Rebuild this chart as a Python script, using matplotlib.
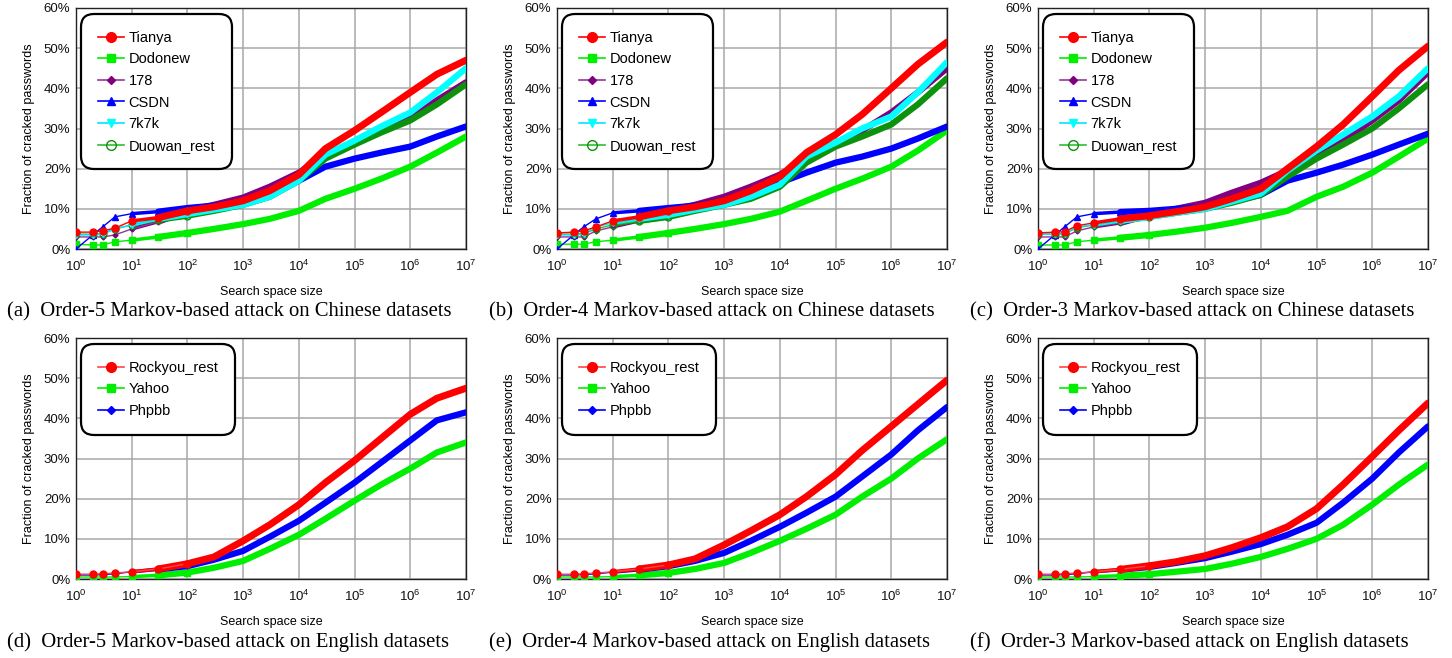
import matplotlib
matplotlib.use("Agg")
from matplotlib import pyplot as plt
from matplotlib.ticker import FuncFormatter, LogLocator, LogFormatterMathtext

plt.rcParams['font.family'] = ['Liberation Sans', 'DejaVu Sans']
plt.rcParams['mathtext.fontset'] = 'custom'
plt.rcParams['mathtext.rm'] = 'Liberation Sans'
plt.rcParams['mathtext.it'] = 'Liberation Sans:italic'

# search space sizes (guess numbers) at which the cracked fraction is sampled
guesses = [1, 2, 3, 5, 10, 30, 100, 300, 1e3, 3e3, 1e4, 3e4, 1e5, 3e5, 1e6, 3e6, 1e7]

# Chinese datasets, order-5 / order-4 / order-3 Markov (percent cracked)
cn_o5 = {
    'Tianya': [4.2, 4.2, 4.5, 5.2, 7, 7.8, 9.5, 10.5, 12, 14.5, 18.5, 25, 29.5, 34, 39, 43.5, 47],
    'Dodonew': [1.2, 1.0, 1.0, 1.8, 2.2, 3.0, 4.0, 5.0, 6.2, 7.5, 9.5, 12.5, 15, 17.5, 20.5, 24, 28],
    '178': [3, 3, 3, 3.5, 5, 6.8, 9.5, 11, 12.8, 15.5, 19, 23.5, 26.5, 29.5, 32.5, 37, 41.5],
    'CSDN': [0, 3.5, 5.5, 8, 8.8, 9.3, 10.2, 10.8, 12, 13.5, 17, 20.5, 22.5, 24, 25.5, 28, 30.5],
    '7k7k': [3.5, 3.5, 3.7, 5, 6, 7.5, 8.7, 9.8, 11, 13, 17, 23.5, 27, 30.5, 34, 39, 45],
    'Duowan_rest': [3.7, 3.7, 3.8, 5, 6, 7.3, 8.3, 9.5, 11, 13, 17, 22.5, 26, 29, 32, 36, 41],
}
cn_o4 = {
    'Tianya': [4, 4.2, 4.5, 5.5, 7, 8, 9.5, 10.5, 12, 14.5, 18, 24, 28.5, 33.5, 40, 46, 51.5],
    'Dodonew': [1.2, 1.2, 1.2, 1.8, 2.2, 3, 4, 5, 6.2, 7.5, 9.3, 12, 15, 17.5, 20.5, 24.5, 29.5],
    '178': [3, 3, 3, 4.5, 5.5, 7, 9.5, 11, 13, 15.5, 18.5, 22.5, 26, 29.5, 34, 39, 45],
    'CSDN': [0, 3.5, 5.5, 7.5, 9, 9.5, 10.2, 10.8, 12, 13.5, 16.5, 19, 21.5, 23, 25, 27.5, 30.5],
    '7k7k': [3.5, 3.5, 3.7, 5.5, 6.5, 7.5, 8.5, 9.8, 11, 13, 16, 23, 26.5, 30, 33, 39, 46.5],
    'Duowan_rest': [3.7, 3.7, 3.8, 5, 6, 7, 8, 9.5, 11, 12.5, 15.5, 21.5, 25.5, 28, 31, 36, 42.5],
}
cn_o3 = {
    'Tianya': [4, 4.2, 4.3, 5.8, 6.5, 7.5, 8.3, 9.3, 10.5, 12.5, 15, 20, 25.5, 31, 38, 44.5, 50.5],
    'Dodonew': [1, 1, 1, 1.8, 2.2, 2.8, 3.5, 4.3, 5.3, 6.5, 8, 9.5, 13, 15.5, 19, 23, 27.5],
    '178': [3, 3, 3, 4.5, 5.5, 6.5, 8.5, 10, 11.5, 14, 16.5, 19.5, 23.5, 27, 32, 37, 44],
    'CSDN': [0, 3.5, 5.5, 8, 8.8, 9.2, 9.5, 10, 10.5, 11.8, 13.5, 17, 19, 21, 23.5, 26, 28.7],
    '7k7k': [3.7, 3.7, 3.8, 5.5, 6, 7, 8, 9, 10, 11.8, 13.8, 19.5, 24.5, 28.5, 33, 38, 45],
    'Duowan_rest': [3.7, 3.7, 3.8, 5.3, 6, 7, 8, 9, 10, 11.5, 13.5, 18, 22.5, 26, 30, 35, 41],
}

# English datasets, order-5 / order-4 / order-3 Markov (percent cracked)
en_o5 = {
    'Rockyou_rest': [1.2, 1.2, 1.3, 1.5, 1.8, 2.5, 3.8, 5.5, 9.5, 13.5, 18.5, 24, 29.5, 35, 41, 45, 47.5],
    'Yahoo': [0.5, 0.5, 0.5, 0.5, 0.6, 0.9, 1.6, 2.8, 4.5, 7.5, 11, 15, 19.5, 23.5, 27.5, 31.5, 34],
    'Phpbb': [1, 1, 1.1, 1.3, 1.8, 2.4, 3.2, 4.8, 7, 10.5, 14.5, 19, 24, 29, 34.5, 39.5, 41.5],
}
en_o4 = {
    'Rockyou_rest': [1.2, 1.2, 1.3, 1.5, 1.8, 2.5, 3.5, 5, 8.5, 12, 16, 20.5, 26, 32, 38, 43.5, 49.5],
    'Yahoo': [0.5, 0.5, 0.5, 0.5, 0.6, 0.9, 1.5, 2.5, 4, 6.5, 9.5, 12.5, 16, 20.5, 25, 30, 34.8],
    'Phpbb': [1, 1, 1.1, 1.3, 1.7, 2.3, 3.2, 4.5, 6.5, 9.5, 13, 16.5, 20.5, 25.5, 31, 37, 42.8],
}
en_o3 = {
    'Rockyou_rest': [1.2, 1.2, 1.3, 1.5, 1.8, 2.4, 3.3, 4.3, 5.8, 7.8, 10.3, 13, 17.5, 23.5, 30.5, 37, 43.8],
    'Yahoo': [0.5, 0.5, 0.5, 0.5, 0.6, 0.8, 1.2, 1.8, 2.5, 3.8, 5.5, 7.5, 10, 13.5, 18.5, 23.5, 28.5],
    'Phpbb': [1, 1, 1.1, 1.3, 1.8, 2.3, 3, 4, 5.2, 6.8, 8.7, 11, 14, 19, 25, 31.5, 38],
}

captions = [
    "(a)  Order-5 Markov-based attack on Chinese datasets",
    "(b)  Order-4 Markov-based attack on Chinese datasets",
    "(c)  Order-3 Markov-based attack on Chinese datasets",
    "(d)  Order-5 Markov-based attack on English datasets",
    "(e)  Order-4 Markov-based attack on English datasets",
    "(f)  Order-3 Markov-based attack on English datasets",
]

# name: (band colour, legend line colour, marker, marker size, filled, zorder)
styles = {
    'Tianya': ('#ff0000', '#ff0000', 'o', 7, True, 8),
    'Dodonew': ('#00ee00', '#00ee00', 's', 6, True, 3),
    '178': ('#800080', '#993399', 'D', 4.5, True, 4),
    'CSDN': ('#0000ff', '#0000ff', '^', 6, True, 5),
    '7k7k': ('#00ffff', '#00e5ff', 'v', 6, True, 7),
    'Duowan_rest': ('#0c920c', '#33bb33', 'o', 7, False, 6),
    'Rockyou_rest': ('#ff0000', '#ff4444', 'o', 7, True, 5),
    'Yahoo': ('#00ee00', '#00ee00', 's', 6, True, 3),
    'Phpbb': ('#0000ff', '#0000ff', 'D', 4.5, True, 4),
}


def pct(v, pos):
    return '%d%%' % round(v)


def draw_panel(ax, series):
    handles = []
    for name, vals in series.items():
        band, lc, mk, ms, filled, z = styles[name]
        face = band if filled else 'none'
        lw = 5 if name in ('Tianya', 'Rockyou_rest') else 4.5
        # dense tail of the curve shows up as a thick band
        ax.plot(guesses[4:7], vals[4:7], color=band, lw=2.5,
                solid_capstyle='round', zorder=z)
        ax.plot(guesses[5:], vals[5:], color=band, lw=lw,
                solid_capstyle='round', zorder=z)
        ax.plot(guesses[:7], vals[:7], color=lc, lw=1, marker=mk, ms=ms - 2,
                mfc=face, mec=band, zorder=z + 0.5)
        h, = ax.plot([], [], color=lc, lw=1.2, marker=mk, ms=ms,
                     mfc=face, mec=band, label=name)
        handles.append(h)

    ax.set_xscale('log')
    ax.set_xlim(1, 1e7)
    ax.set_ylim(0, 60)
    ax.xaxis.set_major_locator(LogLocator(base=10, numticks=10))
    ax.xaxis.set_major_formatter(LogFormatterMathtext())
    ax.xaxis.set_minor_locator(plt.NullLocator())
    ax.set_yticks(range(0, 61, 10))
    ax.yaxis.set_major_formatter(FuncFormatter(pct))
    ax.grid(True, color='#a8a8a8', lw=1.1)
    ax.set_axisbelow(True)
    ax.tick_params(length=0, labelsize=9.5, colors='#111111')
    ax.tick_params(axis='x', pad=7)
    ax.tick_params(axis='y', pad=4)
    for s in ax.spines.values():
        s.set_color('#222222')
        s.set_linewidth(1)
    ax.set_xlabel('Search space size', fontsize=9, labelpad=9)
    ax.set_ylabel('Fraction of cracked passwords', fontsize=9, labelpad=6)

    leg = ax.legend(handles=handles, loc='upper left',
                    bbox_to_anchor=(0.013, 0.975), fontsize=10.5,
                    handlelength=1.8, handletextpad=0.3, labelspacing=0.52,
                    borderpad=1.15, borderaxespad=0, framealpha=1,
                    edgecolor='black', fancybox=True)
    leg.get_frame().set_linewidth(1.6)
    leg.get_frame().set_boxstyle('round,pad=0,rounding_size=0.9')
    leg.set_zorder(20)


fig = plt.figure(figsize=(14.52, 6.58), dpi=100)
lefts = [76, 557, 1038]
panels = [cn_o5, cn_o4, cn_o3, en_o5, en_o4, en_o3]
cap_x = [7, 489, 970]
for i, series in enumerate(panels):
    row, col = divmod(i, 3)
    top = 8 if row == 0 else 338
    ax = fig.add_axes([lefts[col] / 1452, (658 - top - 241) / 658, 390 / 1452, 241 / 658])
    draw_panel(ax, series)
    cy = 312 if row == 0 else 642
    fig.text(cap_x[col] / 1452, 1 - cy / 658, captions[i], ha='left', va='center',
             fontsize=14.9, family=['Liberation Serif', 'DejaVu Serif'])

fig.savefig('out.png', dpi=100)
